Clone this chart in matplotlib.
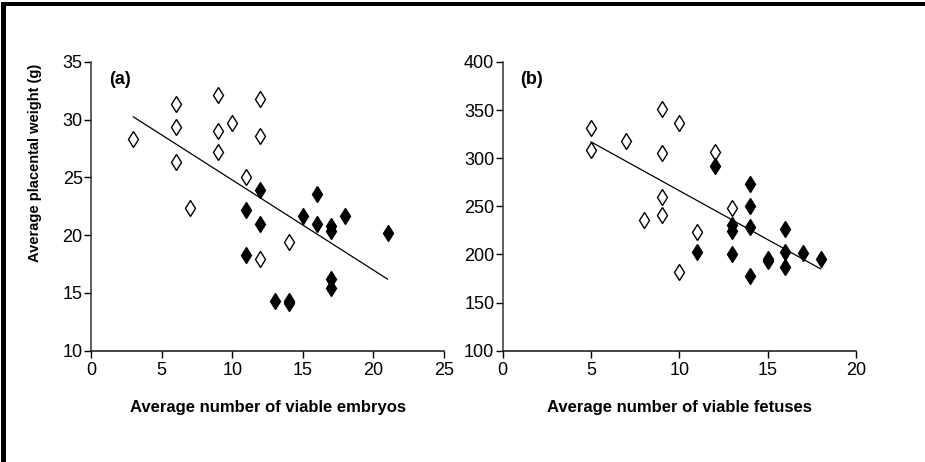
import matplotlib
matplotlib.use('Agg')
from matplotlib import pyplot as plt
from matplotlib.patches import Rectangle

plt.rcParams['font.family'] = ['Liberation Sans', 'DejaVu Sans']

# panel (a): placental weight vs viable embryos
emb_open_x = [3, 6, 6, 6, 7, 9, 9, 9, 10, 11, 12, 12, 12, 14]
emb_open_y = [28.3, 31.4, 29.4, 26.3, 22.4, 32.1, 29.0, 27.2, 29.7, 25.0, 31.8, 28.6, 17.9, 19.4]
emb_fill_x = [11, 11, 12, 12, 13, 14, 14, 15, 16, 16, 17, 17, 17, 17, 18, 21]
emb_fill_y = [22.2, 18.3, 23.9, 21.0, 14.3, 14.1, 14.3, 21.7, 23.6, 21.0, 20.8, 20.4, 16.2, 15.4, 21.7, 20.2]
emb_fit_x = [3, 21]
emb_fit_y = [30.25, 16.2]

# panel (b): placental weight vs viable fetuses
fet_open_x = [5, 5, 7, 8, 9, 9, 9, 9, 10, 10, 11, 12, 13]
fet_open_y = [331, 309, 318, 236, 351, 305, 260, 241, 337, 182, 223, 306, 248]
fet_fill_x = [11, 12, 13, 13, 13, 14, 14, 14, 14, 15, 15, 16, 16, 16, 17, 18]
fet_fill_y = [203, 292, 231, 224, 200, 273, 250, 229, 178, 195, 193, 226, 203, 187, 202, 195]
fet_fit_x = [5, 18]
fet_fit_y = [317, 185]

fig = plt.figure(figsize=(9.25, 4.62), dpi=100)
ax1 = fig.add_axes([91 / 925, 1 - 350.7 / 462, 353 / 925, 288.7 / 462])
ax2 = fig.add_axes([502.7 / 925, 1 - 350.7 / 462, 353.3 / 925, 288.7 / 462])

panels = [
    (ax1, emb_open_x, emb_open_y, emb_fill_x, emb_fill_y, emb_fit_x, emb_fit_y,
     (0, 25), (10, 35), range(0, 26, 5), range(10, 36, 5), '(a)',
     'Average number of viable embryos'),
    (ax2, fet_open_x, fet_open_y, fet_fill_x, fet_fill_y, fet_fit_x, fet_fit_y,
     (0, 20), (100, 400), range(0, 21, 5), range(100, 401, 50), '(b)',
     'Average number of viable fetuses'),
]

for ax, ox, oy, fx, fy, lx, ly, xl, yl, xt, yt, tag, xlab in panels:
    ax.plot(lx, ly, color='black', lw=0.9, zorder=2)
    ax.plot(ox, oy, 'd', ms=8, mfc='white', mec='black', mew=1.0, ls='none', zorder=3)
    ax.plot(fx, fy, 'd', ms=8, mfc='black', mec='black', mew=1.0, ls='none', zorder=3)
    ax.set_xlim(*xl)
    ax.set_ylim(*yl)
    ax.set_xticks(list(xt))
    ax.set_yticks(list(yt))
    ax.spines['top'].set_visible(False)
    ax.spines['right'].set_visible(False)
    ax.spines['left'].set_color('#333333')
    ax.spines['bottom'].set_color('#111111')
    ax.spines['left'].set_linewidth(1.1)
    ax.spines['bottom'].set_linewidth(1.1)
    ax.tick_params(axis='both', direction='out', length=5, width=1.0,
                   labelsize=13, colors='black')
    ax.tick_params(axis='x', pad=3)
    ax.tick_params(axis='y', pad=1)
    ax.text(0.05, 0.94, tag, transform=ax.transAxes, fontsize=13,
            fontweight='bold', ha='left', va='center')
    ax.set_xlabel(xlab, fontsize=12, fontweight='bold', labelpad=15)

fig.text(35 / 925, 1 - 163 / 462, 'Average placental weight (g)', rotation=90,
         fontsize=10.5, fontweight='bold', ha='center', va='center')

# black frame on left and top edges
fig.add_artist(Rectangle((1 / 925, 0), 5 / 925, 1 - 2 / 462,
                         transform=fig.transFigure, color='black', lw=0))
fig.add_artist(Rectangle((1 / 925, 1 - 6 / 462), 1, 4 / 462,
                         transform=fig.transFigure, color='black', lw=0))

fig.savefig('out.png', dpi=100, facecolor='white')
